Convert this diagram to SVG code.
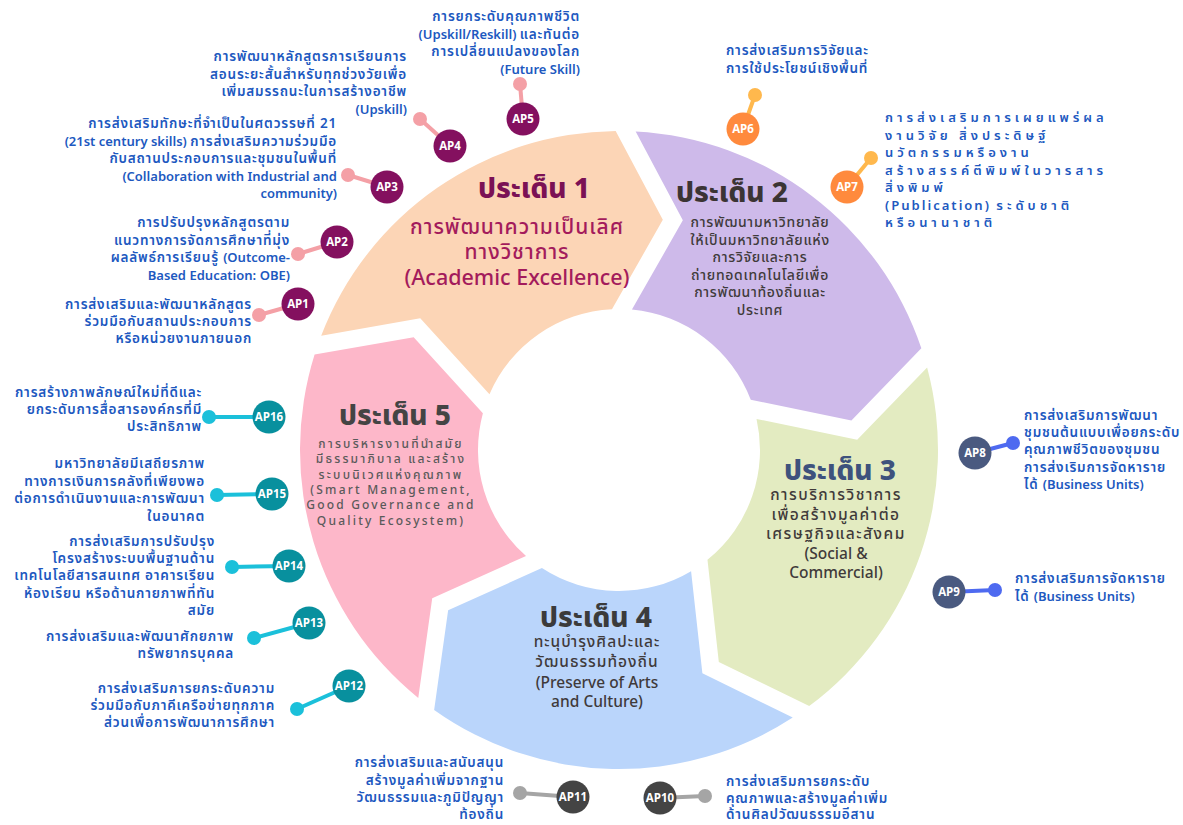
<svg xmlns="http://www.w3.org/2000/svg" width="1183" height="825" viewBox="0 0 1183 825">
<style>
text{font-family:"Noto Sans Thai","Noto Sans","DejaVu Sans","Liberation Sans",sans-serif}
.lbl{font-size:13.5px;fill:#2058C0;font-weight:600;letter-spacing:0.8px}
.lbl.e{text-anchor:end}
.lbl.sp{letter-spacing:4px;font-size:13px}
.en{letter-spacing:0;font-size:13px}
.lbl.sp .en{letter-spacing:2px}
.ap{font-size:11.5px;font-weight:bold;fill:#fff;text-anchor:middle;letter-spacing:0}
.ttl{font-size:28px;font-weight:800;text-anchor:middle}
.body{text-anchor:middle;font-size:14.5px;fill:#403a3a;font-weight:500}
.th{letter-spacing:1px}
.c1{fill:#84105F}.c2{fill:#FF8A3D}.c3{fill:#4A5A80}.c4{fill:#444444}.c5{fill:#08909E}
.k{stroke-width:4;fill:none}
.k1{stroke:#F4A0A6}.k2{stroke:#FFB84D}.k3{stroke:#4E6AF0}.k4{stroke:#A5A5A5}.k5{stroke:#1BC0DA}
</style>
<defs>
<marker id="d1" viewBox="0 0 10 10" refX="5" refY="5" markerWidth="3.5" markerHeight="3.5"><circle cx="5" cy="5" r="5" fill="#F4A0A6"/></marker>
<marker id="d2" viewBox="0 0 10 10" refX="5" refY="5" markerWidth="3.5" markerHeight="3.5"><circle cx="5" cy="5" r="5" fill="#FFB84D"/></marker>
<marker id="d3" viewBox="0 0 10 10" refX="5" refY="5" markerWidth="3.5" markerHeight="3.5"><circle cx="5" cy="5" r="5" fill="#4E6AF0"/></marker>
<marker id="d4" viewBox="0 0 10 10" refX="5" refY="5" markerWidth="3.5" markerHeight="3.5"><circle cx="5" cy="5" r="5" fill="#A5A5A5"/></marker>
<marker id="d5" viewBox="0 0 10 10" refX="5" refY="5" markerWidth="3.5" markerHeight="3.5"><circle cx="5" cy="5" r="5" fill="#1BC0DA"/></marker>
</defs>
<rect width="1183" height="825" fill="#ffffff"/>

<g id="issue1">
<path fill="#FCD5B6" d="M321.18,335.71 A319,319 0 0 1 615.68,131.02 L662.83,219.87 L611.95,309.18 A141,141 0 0 0 489.46,394.31 L420.25,318.31 Z"/>
<text class="ttl" x="534" y="198" fill="#7B1155">ประเด็น 1</text>
<text text-anchor="middle" font-size="21" font-weight="500" fill="#A31B5C"><tspan class="th" x="517" y="234">การพัฒนาความเป็นเลิศ</tspan><tspan class="th" x="517" y="259">ทางวิชาการ</tspan><tspan x="517" y="285" style="font-size:21.5px">(Academic Excellence)</tspan></text>
</g>
<g id="issue2">
<path fill="#CEBAEA" d="M635.67,131.44 A319,319 0 0 1 921.35,348.27 L851.41,420.57 L750.75,399.78 A141,141 0 0 0 631.94,309.60 L682.83,220.29 Z"/>
<text class="ttl" x="732" y="202" fill="#3B3434">ประเด็น 2</text>
<text class="body" style="font-size:14px;letter-spacing:0.7px"><tspan x="760" y="227">การพัฒนามหาวิทยาลัย</tspan><tspan x="760" y="244.5">ให้เป็นมหาวิทยาลัยแห่ง</tspan><tspan x="760" y="262">การวิจัยและการ</tspan><tspan x="760" y="279.5">ถ่ายทอดเทคโนโลยีเพื่อ</tspan><tspan x="760" y="297">การพัฒนาท้องถิ่นและ</tspan><tspan x="760" y="314.5">ประเทศ</tspan></text>
</g>
<g id="issue3">
<path fill="#E3EBC1" d="M927.12,367.42 A319,319 0 0 1 809.19,706.10 L718.81,661.95 L707.48,559.79 A141,141 0 0 0 756.53,418.92 L857.19,439.71 Z"/>
<text class="ttl" x="840" y="480" fill="#3E527D">ประเด็น 3</text>
<text class="body" style="font-size:15.5px"><tspan class="th" style="letter-spacing:1.5px" x="836" y="500">การบริการวิชาการ</tspan><tspan class="th" style="letter-spacing:1.5px" x="836" y="520">เพื่อสร้างมูลค่าต่อ</tspan><tspan class="th" style="letter-spacing:1.5px" x="836" y="539">เศรษฐกิจและสังคม</tspan><tspan x="836" y="559">(Social &amp;</tspan><tspan x="836" y="578">Commercial)</tspan></text>
</g>
<g id="issue4">
<path fill="#BAD5FB" d="M792.76,717.53 A319,319 0 0 1 434.15,709.99 L448.14,610.27 L541.92,568.07 A141,141 0 0 0 691.08,571.19 L702.38,673.36 Z"/>
<text class="ttl" x="596" y="627" fill="#3B3B3B">ประเด็น 4</text>
<text class="body" style="font-size:15.5px"><tspan class="th" x="597" y="647">ทะนุบำรุงศิลปะและ</tspan><tspan class="th" x="597" y="667">วัฒนธรรมท้องถิ่น</tspan><tspan x="597" y="688">(Preserve of Arts</tspan><tspan x="597" y="707">and Culture)</tspan></text>
</g>
<g id="issue5">
<path fill="#FDB7C9" d="M418.25,697.91 A319,319 0 0 1 314.60,354.59 L413.68,337.20 L482.89,413.18 A141,141 0 0 0 526.02,556.00 L432.22,598.17 Z"/>
<text class="ttl" x="395" y="425" fill="#444444">ประเด็น 5</text>
<text class="body" style="font-size:12px;letter-spacing:2.2px;fill:#5a5a5a"><tspan x="391" y="448">การบริหารงานที่นำสมัย</tspan><tspan x="391" y="463">มีธรรมาภิบาล และสร้าง</tspan><tspan x="391" y="479">ระบบนิเวศแห่งคุณภาพ</tspan><tspan x="391" y="494">(Smart Management,</tspan><tspan x="391" y="509">Good Governance and</tspan><tspan x="391" y="525">Quality Ecosystem)</tspan></text>
</g>

<g id="connectors">
<line class="k k1" x1="298" y1="304" x2="259" y2="315" marker-end="url(#d1)"/>
<line class="k k1" x1="337" y1="242" x2="298" y2="254" marker-end="url(#d1)"/>
<line class="k k1" x1="387" y1="187" x2="348" y2="175" marker-end="url(#d1)"/>
<line class="k k1" x1="450" y1="146" x2="420" y2="119" marker-end="url(#d1)"/>
<line class="k k1" x1="523" y1="119" x2="520" y2="84" marker-end="url(#d1)"/>
<line class="k k2" x1="743" y1="129" x2="755" y2="95" marker-end="url(#d2)"/>
<line class="k k2" x1="847" y1="187" x2="871" y2="158" marker-end="url(#d2)"/>
<line class="k k3" x1="975" y1="453" x2="1013" y2="443" marker-end="url(#d3)"/>
<line class="k k3" x1="949" y1="592" x2="995" y2="590" marker-end="url(#d3)"/>
<line class="k k4" x1="660" y1="798" x2="705" y2="796" marker-end="url(#d4)"/>
<line class="k k4" x1="573" y1="797" x2="520" y2="793" marker-end="url(#d4)"/>
<line class="k k5" x1="349" y1="686" x2="297" y2="709" marker-end="url(#d5)"/>
<line class="k k5" x1="309" y1="623" x2="254" y2="638" marker-end="url(#d5)"/>
<line class="k k5" x1="289" y1="566" x2="232" y2="567" marker-end="url(#d5)"/>
<line class="k k5" x1="272" y1="494" x2="217" y2="495" marker-end="url(#d5)"/>
<line class="k k5" x1="269" y1="417" x2="209" y2="417" marker-end="url(#d5)"/>
</g>

<g id="AP1"><circle class="c1" cx="298" cy="304" r="16.5"/><text class="ap" x="298" y="308">AP1</text>
<text class="lbl e"><tspan x="252" y="309">การส่งเสริมและพัฒนาหลักสูตร</tspan><tspan x="252" y="326">ร่วมมือกับสถานประกอบการ</tspan><tspan x="252" y="343">หรือหน่วยงานภายนอก</tspan></text></g>
<g id="AP2"><circle class="c1" cx="337" cy="242" r="16.5"/><text class="ap" x="337" y="246">AP2</text>
<text class="lbl e"><tspan x="290" y="227">การปรับปรุงหลักสูตรตาม</tspan><tspan x="290" y="244.5">แนวทางการจัดการศึกษาที่มุ่ง</tspan><tspan x="290" y="262">ผลลัพธ์การเรียนรู้ <tspan class="en">(Outcome-</tspan></tspan><tspan class="en" x="290" y="279.5">Based Education: OBE)</tspan></text></g>
<g id="AP3"><circle class="c1" cx="387" cy="187" r="16.5"/><text class="ap" x="387" y="191">AP3</text>
<text class="lbl e"><tspan x="337" y="128">การส่งเสริมทักษะที่จำเป็นในศตวรรษที่ 21</tspan><tspan x="337" y="145.5"><tspan class="en">(21st century skills) </tspan>การส่งเสริมความร่วมมือ</tspan><tspan x="337" y="163">กับสถานประกอบการและชุมชนในพื้นที่</tspan><tspan class="en" x="337" y="180.5">(Collaboration with Industrial and</tspan><tspan class="en" x="337" y="198">community)</tspan></text></g>
<g id="AP4"><circle class="c1" cx="450" cy="146" r="16.5"/><text class="ap" x="450" y="150">AP4</text>
<text class="lbl e"><tspan x="407" y="61">การพัฒนาหลักสูตรการเรียนการ</tspan><tspan x="407" y="78.5">สอนระยะสั้นสำหรับทุกช่วงวัยเพื่อ</tspan><tspan x="407" y="96">เพิ่มสมรรถนะในการสร้างอาชีพ</tspan><tspan class="en" x="407" y="114">(Upskill)</tspan></text></g>
<g id="AP5"><circle class="c1" cx="523" cy="119" r="16.5"/><text class="ap" x="523" y="123">AP5</text>
<text class="lbl e"><tspan x="580" y="21">การยกระดับคุณภาพชีวิต</tspan><tspan x="580" y="38.5"><tspan class="en">(Upskill/Reskill) </tspan>และทันต่อ</tspan><tspan x="580" y="56">การเปลี่ยนแปลงของโลก</tspan><tspan class="en" x="580" y="74">(Future Skill)</tspan></text></g>
<g id="AP6"><circle class="c2" cx="743" cy="129" r="16.5"/><text class="ap" x="743" y="133">AP6</text>
<text class="lbl"><tspan x="726" y="55">การส่งเสริมการวิจัยและ</tspan><tspan x="726" y="73">การใช้ประโยชน์เชิงพื้นที่</tspan></text></g>
<g id="AP7"><circle class="c2" cx="847" cy="187" r="16.5"/><text class="ap" x="847" y="191">AP7</text>
<text class="lbl sp"><tspan x="885" y="122">การส่งเสริมการเผยแพร่ผล</tspan><tspan x="885" y="139.5">งานวิจัย สิ่งประดิษฐ์</tspan><tspan x="885" y="157">นวัตกรรมหรืองาน</tspan><tspan x="885" y="174.5">สร้างสรรค์ตีพิมพ์ในวารสาร</tspan><tspan x="885" y="192">สิ่งพิมพ์</tspan><tspan x="885" y="209.5"><tspan class="en">(Publication) </tspan>ระดับชาติ</tspan><tspan x="885" y="227">หรือนานาชาติ</tspan></text></g>
<g id="AP8"><circle class="c3" cx="975" cy="453" r="16.5"/><text class="ap" x="975" y="457">AP8</text>
<text class="lbl"><tspan x="1024" y="420">การส่งเสริมการพัฒนา</tspan><tspan x="1024" y="437">ชุมชนต้นแบบเพื่อยกระดับ</tspan><tspan x="1024" y="454">คุณภาพชีวิตของชุมชน</tspan><tspan x="1024" y="471.5">การส่งเริมการจัดหาราย</tspan><tspan x="1024" y="488.5">ได้ <tspan class="en">(Business Units)</tspan></tspan></text></g>
<g id="AP9"><circle class="c3" cx="949" cy="592" r="16.5"/><text class="ap" x="949" y="596">AP9</text>
<text class="lbl"><tspan x="1015" y="583">การส่งเสริมการจัดหาราย</tspan><tspan x="1015" y="601">ได้ <tspan class="en">(Business Units)</tspan></tspan></text></g>
<g id="AP10"><circle class="c4" cx="660" cy="798" r="16.5"/><text class="ap" x="660" y="802">AP10</text>
<text class="lbl"><tspan x="726" y="786">การส่งเสริมการยกระดับ</tspan><tspan x="726" y="803">คุณภาพและสร้างมูลค่าเพิ่ม</tspan><tspan x="726" y="818.5">ด้านศิลปวัฒนธรรมอีสาน</tspan></text></g>
<g id="AP11"><circle class="c4" cx="573" cy="797" r="16.5"/><text class="ap" x="573" y="801">AP11</text>
<text class="lbl e"><tspan x="504" y="767">การส่งเสริมและสนับสนุน</tspan><tspan x="504" y="785">สร้างมูลค่าเพิ่มจากฐาน</tspan><tspan x="504" y="802">วัฒนธรรมและภูมิปัญญา</tspan><tspan x="504" y="818.5">ท้องถิ่น</tspan></text></g>
<g id="AP12"><circle class="c5" cx="349" cy="686" r="16.5"/><text class="ap" x="349" y="690">AP12</text>
<text class="lbl e"><tspan x="275" y="693">การส่งเสริมการยกระดับความ</tspan><tspan x="275" y="710">ร่วมมือกับภาคีเครือข่ายทุกภาค</tspan><tspan x="275" y="727">ส่วนเพื่อการพัฒนาการศึกษา</tspan></text></g>
<g id="AP13"><circle class="c5" cx="309" cy="623" r="16.5"/><text class="ap" x="309" y="627">AP13</text>
<text class="lbl e"><tspan x="234" y="641">การส่งเสริมและพัฒนาศักยภาพ</tspan><tspan x="234" y="658">ทรัพยากรบุคคล</tspan></text></g>
<g id="AP14"><circle class="c5" cx="289" cy="566" r="16.5"/><text class="ap" x="289" y="570">AP14</text>
<text class="lbl e"><tspan x="215" y="546">การส่งเสริมการปรับปรุง</tspan><tspan x="215" y="563">โครงสร้างระบบพื้นฐานด้าน</tspan><tspan x="215" y="580">เทคโนโลยีสารสนเทศ อาคารเรียน</tspan><tspan x="215" y="597.5">ห้องเรียน หรือด้านกายภาพที่ทัน</tspan><tspan x="215" y="615">สมัย</tspan></text></g>
<g id="AP15"><circle class="c5" cx="272" cy="494" r="16.5"/><text class="ap" x="272" y="498">AP15</text>
<text class="lbl e"><tspan x="205" y="468">มหาวิทยาลัยมีเสถียรภาพ</tspan><tspan x="205" y="486">ทางการเงินการคลังที่เพียงพอ</tspan><tspan x="205" y="503">ต่อการดำเนินงานและการพัฒนา</tspan><tspan x="205" y="521">ในอนาคต</tspan></text></g>
<g id="AP16"><circle class="c5" cx="269" cy="417" r="16.5"/><text class="ap" x="269" y="421">AP16</text>
<text class="lbl e"><tspan x="202" y="397">การสร้างภาพลักษณ์ใหม่ที่ดีและ</tspan><tspan x="202" y="414">ยกระดับการสื่อสารองค์กรที่มี</tspan><tspan x="202" y="431">ประสิทธิภาพ</tspan></text></g>
</svg>
